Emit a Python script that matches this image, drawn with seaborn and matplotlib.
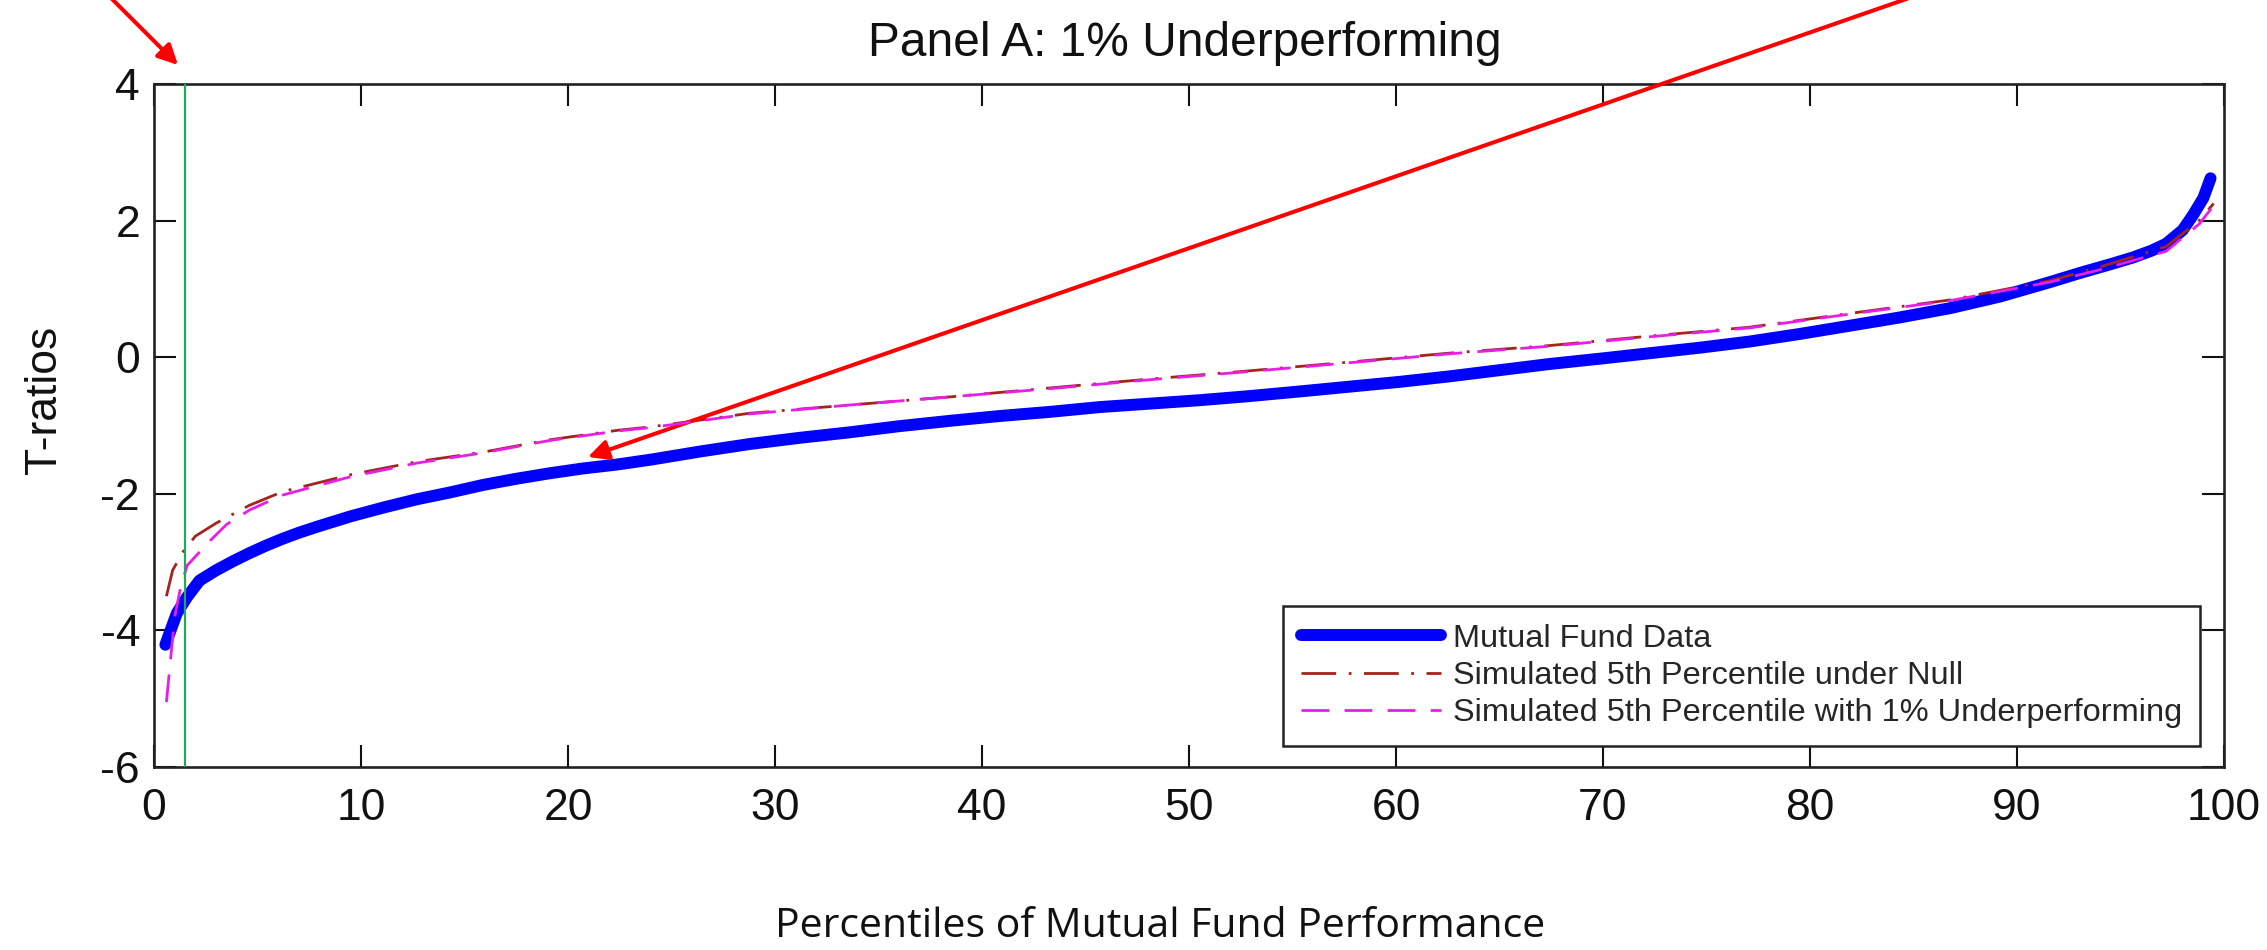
import matplotlib
matplotlib.use("Agg")
import matplotlib.pyplot as plt
import numpy as np
import pandas as pd
import seaborn as sns

# Sorted fund t-ratios by percentile
fund_pct = [0.55, 1.1, 1.6, 2.2, 3.0, 3.8, 4.6, 5.4, 6.2, 7.0, 7.9, 9.5, 11.1,
            12.7, 14.3, 15.9, 17.5, 19.1, 20.7, 22.4, 24.0, 26.4, 28.8, 31.2,
            33.6, 36.0, 38.5, 40.9, 43.3, 45.7, 48.1, 50.5, 52.9, 55.4, 57.8,
            60.2, 62.6, 65.0, 67.4, 69.9, 72.3, 74.7, 77.1, 79.5, 81.9, 84.3,
            86.8, 89.2, 91.6, 93.0, 94.5, 95.6, 96.5, 97.2, 98.0, 98.5, 99.0,
            99.35]
fund_t = [-4.21, -3.75, -3.51, -3.27, -3.12, -2.99, -2.87, -2.76, -2.66, -2.57,
          -2.48, -2.33, -2.20, -2.08, -1.98, -1.87, -1.78, -1.70, -1.63, -1.57,
          -1.50, -1.38, -1.27, -1.18, -1.10, -1.01, -0.93, -0.86, -0.80, -0.73,
          -0.68, -0.63, -0.57, -0.50, -0.43, -0.36, -0.28, -0.19, -0.10, -0.02,
          0.06, 0.14, 0.23, 0.34, 0.46, 0.58, 0.72, 0.89, 1.10, 1.23, 1.36,
          1.46, 1.56, 1.66, 1.86, 2.08, 2.33, 2.62]

# 5th percentile of simulated t-ratios under the null
null_pct = [0.6, 0.9, 1.4, 2.0, 3.0, 4.6, 6.2, 9.5, 12.7, 15.9, 19.1, 22.4, 24.0,
            28.8, 33.6, 38.5, 43.3, 48.1, 52.9, 57.8, 62.6, 67.4, 72.3, 77.1,
            81.9, 86.8, 91.6, 94.0, 97.2, 98.8, 99.5]
null_t = [-3.50, -3.12, -2.85, -2.62, -2.43, -2.17, -1.97, -1.72, -1.53, -1.39,
          -1.21, -1.07, -1.02, -0.82, -0.70, -0.58, -0.45, -0.32, -0.20, -0.07,
          0.06, 0.17, 0.31, 0.44, 0.64, 0.84, 1.12, 1.32, 1.62, 2.00, 2.25]

# 5th percentile of simulated t-ratios with 1% underperforming funds
under_pct = [0.6, 1.0, 1.3, 1.6, 2.6, 3.5, 4.6, 6.2, 7.9, 9.5, 12.7, 15.9, 19.1,
             22.4, 24.0, 28.8, 33.6, 38.5, 43.3, 48.1, 52.9, 57.8, 62.6, 67.4,
             72.3, 77.1, 81.9, 86.8, 91.6, 94.0, 97.2, 98.8, 99.5]
under_t = [-5.05, -3.80, -3.35, -3.05, -2.72, -2.45, -2.24, -2.02, -1.88, -1.75,
           -1.55, -1.40, -1.22, -1.08, -1.03, -0.83, -0.70, -0.58, -0.46, -0.33,
           -0.21, -0.08, 0.05, 0.16, 0.30, 0.43, 0.63, 0.83, 1.10, 1.28, 1.55,
           1.95, 2.22]

series_labels = ["Mutual Fund Data",
                 "Simulated 5th Percentile under Null",
                 "Simulated 5th Percentile with 1% Underperforming"]
x_ticks = list(range(0, 101, 10))
y_ticks = [-6, -4, -2, 0, 2, 4]
cutoff_pct = 1.5

sns.set_theme(style="ticks")
plt.rcParams["font.family"] = ["Liberation Sans", "DejaVu Sans"]
plt.rcParams["axes.unicode_minus"] = False
plt.rcParams["lines.scale_dashes"] = False

W, H = 2267, 950
fig = plt.figure(figsize=(W / 100, H / 100), dpi=100)
ax = fig.add_axes([154 / W, 1 - 767 / H, 2070 / W, 683 / H])

sns.lineplot(x=fund_pct, y=fund_t, ax=ax, color="#0000ff", linewidth=8.6,
             solid_capstyle="round", solid_joinstyle="round",
             label=series_labels[0], zorder=2, errorbar=None, legend=False)
sns.lineplot(x=null_pct, y=null_t, ax=ax, color="#a3241c", linewidth=2.0,
             linestyle=(0, (25, 9, 2, 9)), label=series_labels[1], zorder=3,
             errorbar=None, legend=False)
sns.lineplot(x=under_pct, y=under_t, ax=ax, color="#e81ee8", linewidth=2.0,
             linestyle=(0, (20, 11)), label=series_labels[2], zorder=4,
             errorbar=None, legend=False)
ax.axvline(cutoff_pct, color="#22a858", linewidth=1.6, zorder=5)

ax.set_xlim(0, 100)
ax.set_ylim(-6, 4)
ax.set_xticks(x_ticks)
ax.set_yticks(y_ticks)
ax.set_xlabel("")
ax.set_ylabel("T-ratios", fontsize=32, color="#111111")
ax.yaxis.set_label_coords(-0.043, 0.537)
ax.tick_params(axis="both", which="major", direction="in", length=16, width=1.5,
               top=True, right=True, labelsize=32, colors="#111111", pad=10)
ax.tick_params(axis="x", pad=15)
for sp in ax.spines.values():
    sp.set_visible(True)
    sp.set_linewidth(1.9)
    sp.set_color("#222222")

handles = ax.get_lines()[:3]
leg = ax.legend(handles, series_labels, loc="lower right",
                bbox_to_anchor=(0.9884, 0.0307), borderaxespad=0,
                fontsize=23.4, handlelength=4.3, handletextpad=0.37,
                labelspacing=0.22, borderpad=0.55, frameon=True,
                fancybox=False, framealpha=1)
leg.get_frame().set_edgecolor("#222222")
leg.get_frame().set_linewidth(1.8)

fig.text(1185 / W, 1 - 44 / H, "Panel A: 1% Underperforming", ha="center",
         va="center", fontsize=34.5, color="#111111")
fig.text(1160 / W, 1 - 927 / H, "Percentiles of Mutual Fund Performance",
         ha="center", va="center", fontsize=29.5, family=["Open Sans", "DejaVu Sans"],
         color="#111111")

# Red pointer arrows
for start, tip in [((108, H + 5), (178, H - 65)), ((1912, H + 3), (588, H - 457))]:
    ax.annotate("", xy=tip, xycoords="figure pixels", xytext=start,
                textcoords="figure pixels", annotation_clip=False,
                arrowprops=dict(arrowstyle="-|>", color="#ff0000", lw=2.9,
                                mutation_scale=30, shrinkA=0, shrinkB=0))

fig.savefig("out.png", dpi=100, facecolor="white")
